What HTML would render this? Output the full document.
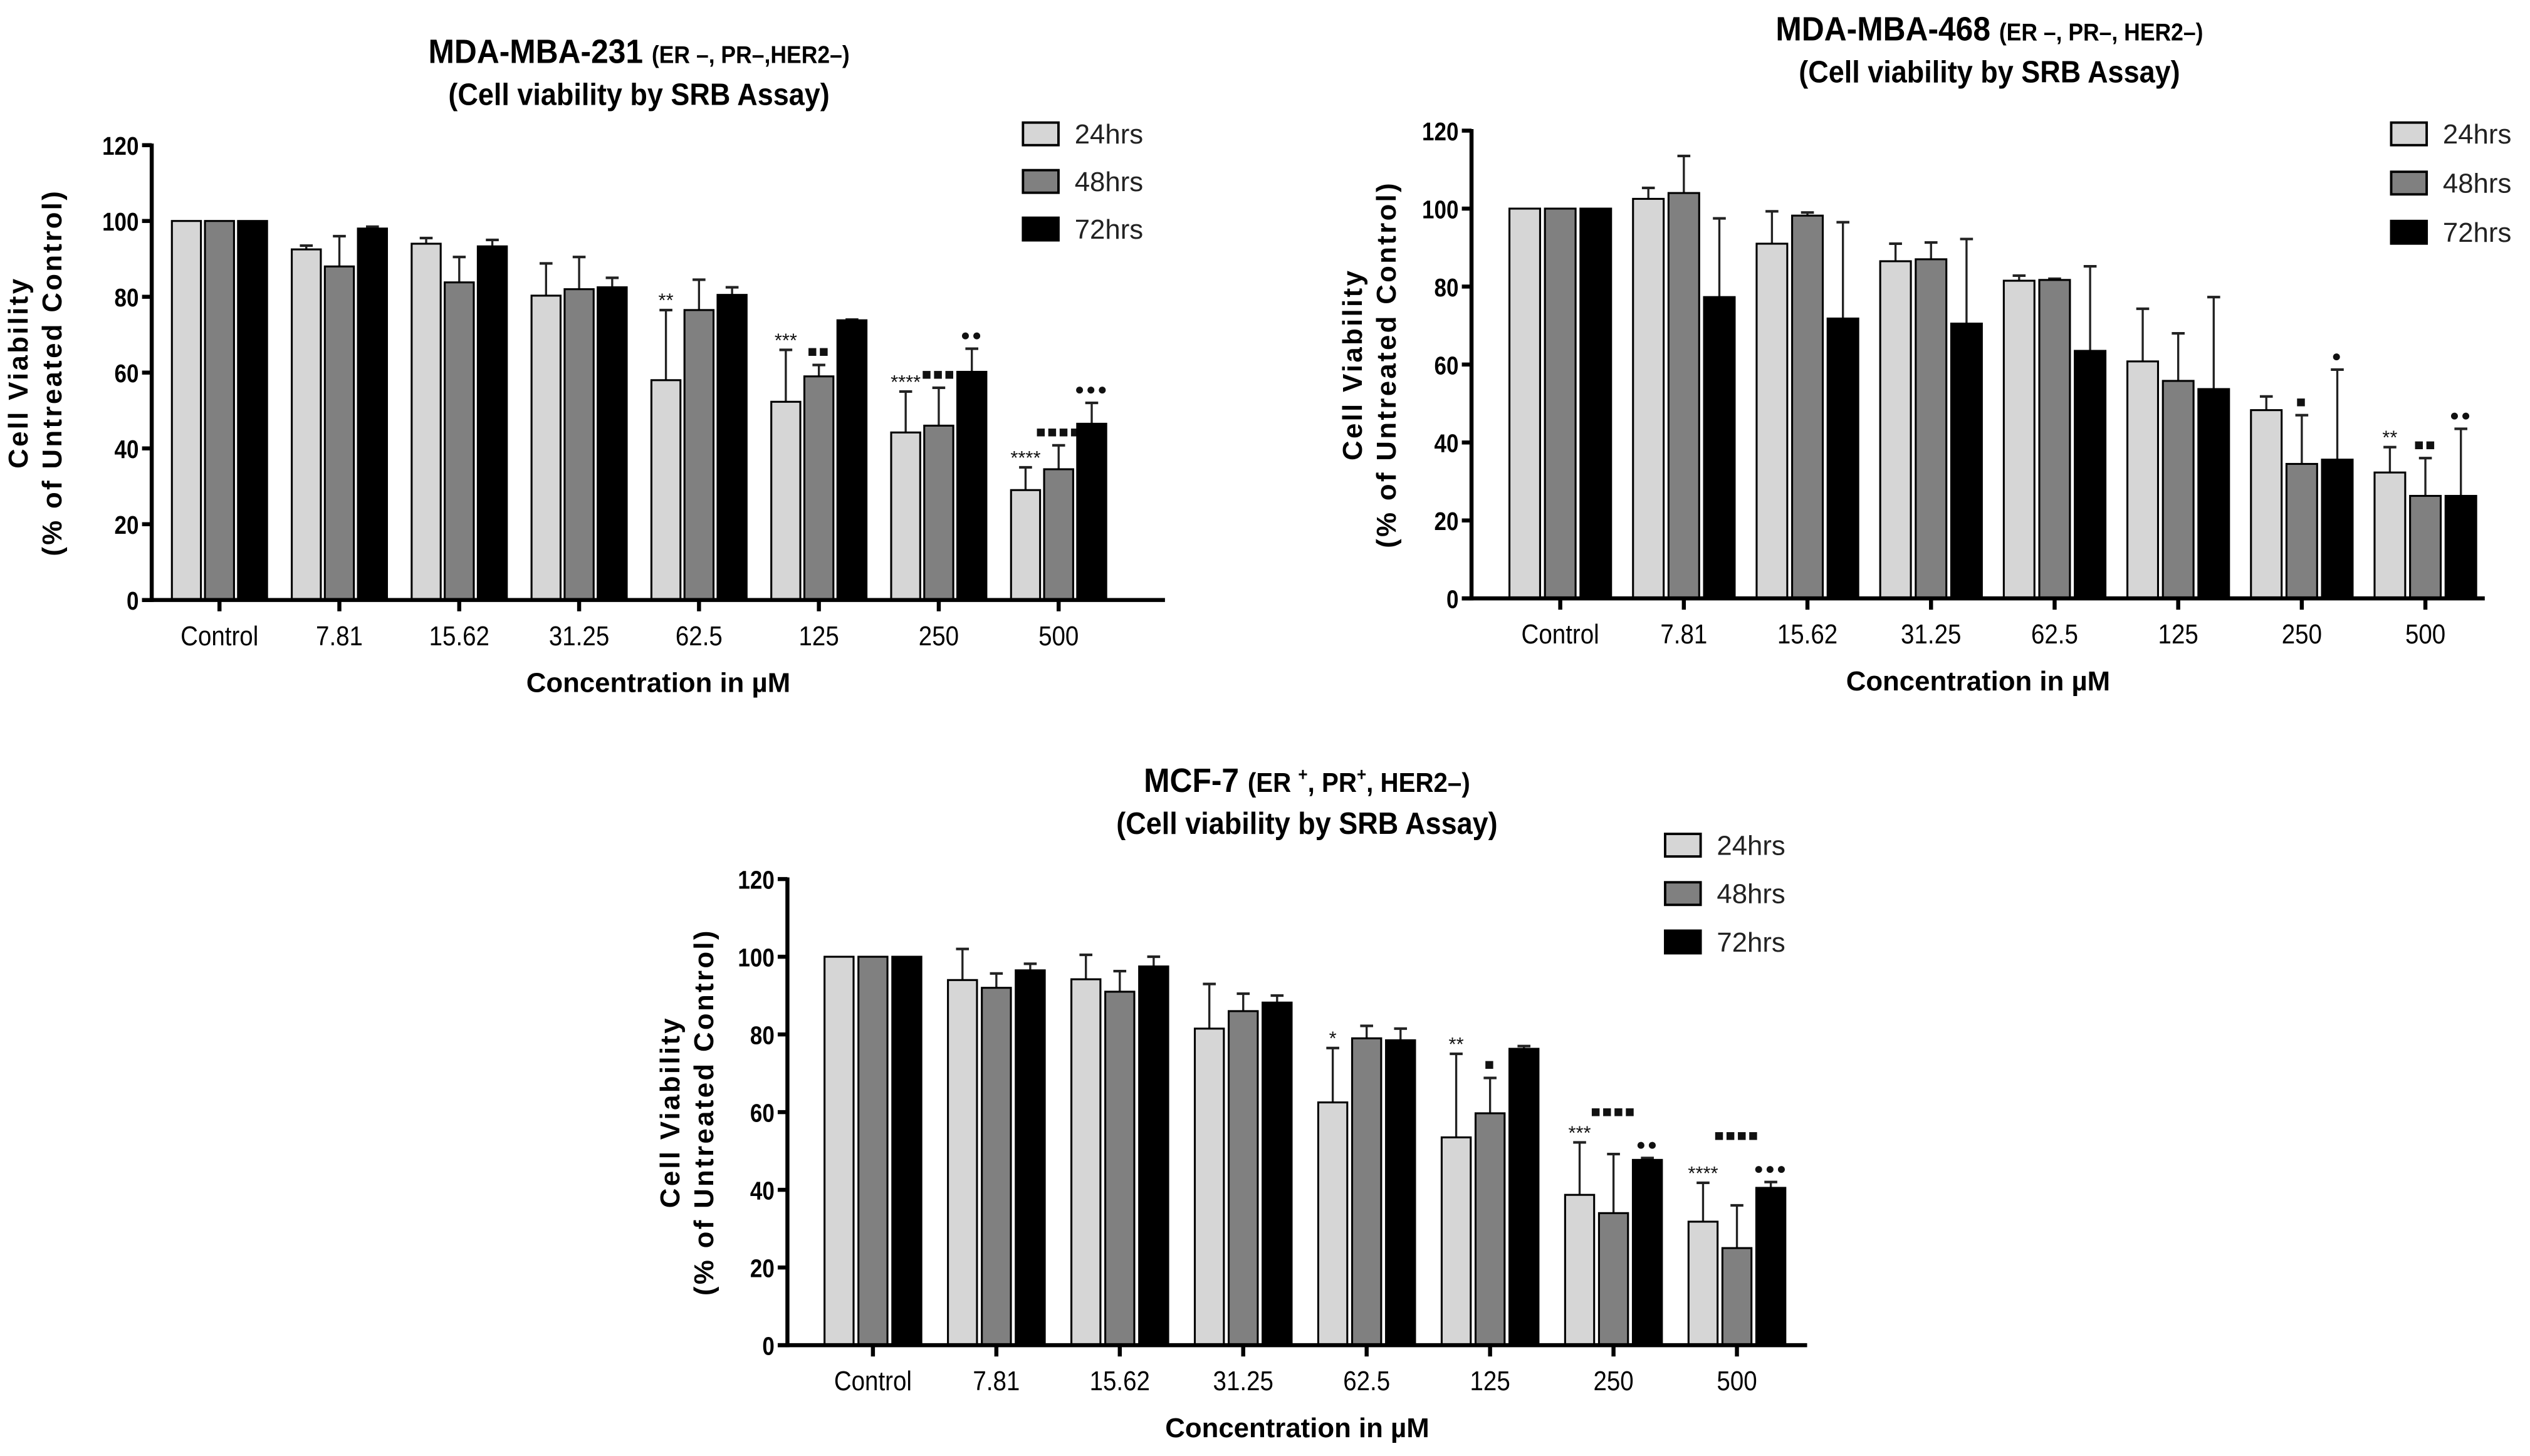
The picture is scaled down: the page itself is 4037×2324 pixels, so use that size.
<!DOCTYPE html>
<html><head><meta charset="utf-8">
<style>
html,body{margin:0;padding:0;background:#fff;}
svg{display:block;}
text{font-family:"Liberation Sans",Arial,sans-serif;}
</style></head>
<body>
<svg id="fig" xmlns="http://www.w3.org/2000/svg" width="4037" height="2324" viewBox="0 0 1568 902.7"></svg>
<script>
const categories = ["Control","7.81","15.62","31.25","62.5","125","250","500"];
const seriesNames = ["24hrs","48hrs","72hrs"];
const yTicks = [0,20,40,60,80,100,120];

const c1_24 = [100,92.5,94,80.3,58,52.3,44.2,29];
const c1_48 = [100,88,83.8,82,76.5,59,46,34.5];
const c1_72 = [100,98,93.3,82.5,80.5,73.8,60.2,46.5];
const c1_e24 = [100,93.5,95.5,88.8,76.5,66,55,35];
const c1_e48 = [100,96,90.5,90.5,84.5,62,56,40.8];
const c1_e72 = [100,98.5,95,85,82.5,74,66.3,52];
const c1_s24 = ["","","","","**","***","****","****"];
const c1_s48 = ["","","","","","■■","■■■","■■■■"];
const c1_s72 = ["","","","","","","●●","●●●"];

const c2_24 = [100,102.5,91,86.5,81.5,60.8,48.3,32.3];
const c2_48 = [100,104,98.2,87,81.7,55.8,34.5,26.3];
const c2_72 = [100,77.3,71.8,70.5,63.5,53.7,35.6,26.3];
const c2_e24 = [100,105.3,99.3,91,82.8,74.3,51.8,38.8];
const c2_e48 = [100,113.5,99,91.3,82,68,47,36];
const c2_e72 = [100,97.5,96.5,92.2,85.2,77.3,58.7,43.5];
const c2_s24 = ["","","","","","","","**"];
const c2_s48 = ["","","","","","","■","■■"];
const c2_s72 = ["","","","","","","●","●●"];

const c3_24 = [100,94,94.2,81.5,62.5,53.5,38.7,31.8];
const c3_48 = [100,92,91,86,79,59.7,34,25];
const c3_72 = [100,96.5,97.5,88.2,78.5,76.3,47.7,40.5];
const c3_e24 = [100,102,100.5,93,76.5,75,52.2,41.8];
const c3_e48 = [100,95.7,96.3,90.5,82.2,68.8,49.2,36];
const c3_e72 = [100,98.2,100,90,81.5,77,48.2,42];
const c3_s24 = ["","","","","*","**","***","****"];
const c3_s48 = ["","","","","","■","■■■■","■■■■"];
const c3_s72 = ["","","","","","","●●","●●●"];

const NS="http://www.w3.org/2000/svg";
const svg=document.getElementById('fig');
const colors=["#d6d6d6","#808080","#000000"];
function mk(tag,attrs,parent){const e=document.createElementNS(NS,tag);for(const k in attrs)e.setAttribute(k,attrs[k]);(parent||svg).appendChild(e);return e;}

function drawChart(cfg){
  const g=mk('g',{});
  
  
  const yS=v=>cfg.y0-(v/120)*(cfg.y0-cfg.y120);
  const xS=i=>cfg.c0+i*cfg.sp;
  const t1=mk('text',{x:cfg.tx,y:cfg.ty,'text-anchor':'middle','font-size':21,'font-weight':'bold',transform:`translate(${cfg.tx},0) scale(0.92,1) translate(${-cfg.tx},0)`},g);
  
  
  t1.innerHTML=cfg.title;
  const t2=mk('text',{x:cfg.tx,y:cfg.ty+26,'text-anchor':'middle','font-size':19,'font-weight':'bold',transform:`translate(${cfg.tx},0) scale(0.92,1) translate(${-cfg.tx},0)`},g);
  
  
  t2.textContent='(Cell viability by SRB Assay)';
  const vals=[cfg.v24,cfg.v48,cfg.v72], errs=[cfg.e24,cfg.e48,cfg.e72], sig=[cfg.s24,cfg.s48,cfg.s72];
  categories.forEach((c,i)=>{
    for(let s=0;s<3;s++){
      const cx=xS(i)+(s-1)*cfg.pitch;
      const top=yS(vals[s][i]);
      const eTop=yS(errs[s][i]);
      if(errs[s][i]>vals[s][i]){
        const el=mk('line',{x1:cx,x2:cx,y1:top,y2:eTop,stroke:'#222','stroke-width':1.3},g);
        
        
        const cap=mk('line',{x1:cx-4,x2:cx+4,y1:eTop,y2:eTop,stroke:'#222','stroke-width':1.6},g);
        
        
      }
      const r=mk('rect',{x:cx-cfg.bw/2,y:top,width:cfg.bw,height:cfg.y0-top,fill:colors[s],stroke:'#000','stroke-width':1.2},g);
      
      
      if(sig[s][i]){
        const star=sig[s][i].indexOf('*')>=0;
        const lift=(cfg.lift&&cfg.lift[s+'-'+i])||0;
        const tt=mk('text',{x:cx,y:Math.min(eTop,top)-(star?2:5)-lift,'text-anchor':'middle','font-size':star?12:10,'letter-spacing':star?0:1,fill:'#111'},g);
        
        
        tt.textContent=sig[s][i];
      }
    }
    const tk=mk('line',{x1:xS(i),x2:xS(i),y1:cfg.y0,y2:cfg.y0+7,stroke:'#000','stroke-width':2.5},g);
    
    
    const tl=mk('text',{x:xS(i),y:cfg.y0+28,'text-anchor':'middle','font-size':17,transform:`translate(${xS(i)},0) scale(0.88,1) translate(${-xS(i)},0)`},g);
    
    
    tl.textContent=c;
  });
  const ya=mk('line',{x1:cfg.ax,x2:cfg.ax,y1:cfg.y120-1,y2:cfg.y0+1.25,stroke:'#000','stroke-width':2.5},g);
  
  
  const xa=mk('line',{x1:cfg.ax-6,x2:cfg.xe,y1:cfg.y0,y2:cfg.y0,stroke:'#000','stroke-width':2.5},g);
  
  
  yTicks.forEach(v=>{
    const tk=mk('line',{x1:cfg.ax-6,x2:cfg.ax,y1:yS(v),y2:yS(v),stroke:'#000','stroke-width':2.5},g);
    
    
    const tl=mk('text',{x:cfg.ax-8,y:yS(v)+6,'text-anchor':'end','font-size':16,'font-weight':'bold',transform:`translate(${cfg.ax-8},0) scale(0.85,1) translate(${-(cfg.ax-8)},0)`},g);
    
    
    tl.textContent=v;
  });
  const xt=mk('text',{x:(cfg.ax+cfg.xe)/2,y:cfg.y0+57,'text-anchor':'middle','font-size':17,'font-weight':'bold'},g);
  
  
  xt.textContent='Concentration in µM';
  const ym=(cfg.y0+cfg.y120)/2;
  const yt=mk('text',{transform:`translate(${cfg.ytx},${ym}) rotate(-90)`,'text-anchor':'middle','font-size':17,'font-weight':'bold','letter-spacing':1.3},g);
  
  
  yt.innerHTML='<tspan x="0" dy="0">Cell Viability</tspan><tspan x="0" dy="21">(%  of Untreated Control)</tspan>';
  seriesNames.forEach((n,s)=>{
    const ly=cfg.ly+s*cfg.lsp;
    const lr=mk('rect',{x:cfg.lx,y:ly-7,width:22,height:14,fill:colors[s],stroke:'#000','stroke-width':1.5},g);
    
    
    const lt=mk('text',{x:cfg.lx+32,y:ly+6,'font-size':17,fill:'#222'},g);
    
    
    lt.textContent=n;
  });
}

drawChart({name:'chart-mda-mb-231',title:'MDA-MBA-231 <tspan font-size="15">(ER –, PR–,HER2–)</tspan>',tx:396,ty:39,
  ax:94,y0:372,y120:90,xe:722,c0:136,sp:74.3,pitch:20.5,bw:18,ytx:17,lx:634,ly:83,lsp:29.5,
  v24:c1_24,v48:c1_48,v72:c1_72,e24:c1_e24,e48:c1_e48,e72:c1_e72,s24:c1_s24,s48:c1_s48,s72:c1_s72});
drawChart({name:'chart-mda-mb-468',title:'MDA-MBA-468 <tspan font-size="15">(ER –, PR–, HER2–)</tspan>',tx:1233,ty:25,
  ax:912,y0:371,y120:81,xe:1540,c0:967,sp:76.6,pitch:22,bw:19,ytx:844,lx:1482,ly:83,lsp:30.5,
  v24:c2_24,v48:c2_48,v72:c2_72,e24:c2_e24,e48:c2_e48,e72:c2_e72,s24:c2_s24,s48:c2_s48,s72:c2_s72});
drawChart({name:'chart-mcf-7',title:'MCF-7 <tspan font-size="17">(ER <tspan font-size="11" dy="-7">+</tspan><tspan dy="7">, PR</tspan><tspan font-size="11" dy="-7">+</tspan><tspan dy="7">, HER2–)</tspan></tspan>',tx:810,ty:491,
  ax:488,y0:834,y120:545,xe:1120,c0:541,sp:76.5,pitch:21,bw:18,ytx:421,lx:1032,ly:524,lsp:30,lift:{'1-6':18,'1-7':35},
  v24:c3_24,v48:c3_48,v72:c3_72,e24:c3_e24,e48:c3_e48,e72:c3_e72,s24:c3_s24,s48:c3_s48,s72:c3_s72});
</script>
</body></html>
